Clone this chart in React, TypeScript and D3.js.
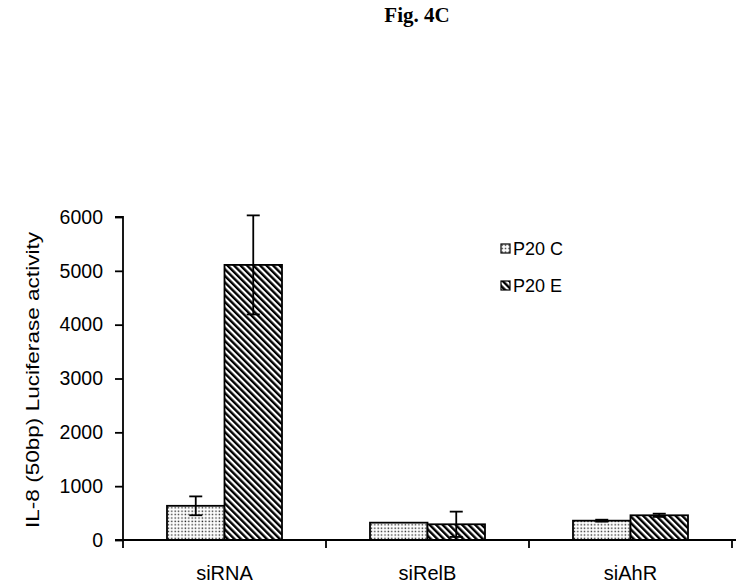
import * as d3 from "d3";
import { useEffect, useRef } from "react";

const categories = ["siRNA", "siRelB", "siAhR"];
const seriesNames = ["P20 C", "P20 E"];
const p20C = [635, 322, 359];
const p20CErr = [175, 0, 18];
const p20E = [5110, 292, 459];
const p20EErr = [920, 235, 30];
const yTicks = [0, 1000, 2000, 3000, 4000, 5000, 6000];

const App = () => {
  const ref = useRef<SVGSVGElement>(null);

  useEffect(() => {
    const svg = d3.select(ref.current);
    svg.selectAll("*").remove();

    const left = 123, right = 733, top = 217, bottom = 540;
    const sans = "Liberation Sans, Arial, sans-serif";

    const defs = svg.append("defs");
    const dots = defs
      .append("pattern")
      .attr("id", "dots")
      .attr("patternUnits", "userSpaceOnUse")
      .attr("width", 3.4)
      .attr("height", 3.4);
    dots.append("rect").attr("width", 3.4).attr("height", 3.4).attr("fill", "#fff");
    dots.append("rect").attr("x", 0.5).attr("y", 0.5).attr("width", 1.4).attr("height", 1.4).attr("fill", "#222");

    const hatch = defs
      .append("pattern")
      .attr("id", "hatch")
      .attr("patternUnits", "userSpaceOnUse")
      .attr("width", 4.6)
      .attr("height", 4.6)
      .attr("patternTransform", "rotate(-45)");
    hatch.append("rect").attr("width", 4.6).attr("height", 4.6).attr("fill", "#fff");
    hatch.append("rect").attr("x", 0).attr("width", 2.4).attr("height", 4.6).attr("fill", "#000");

    const x = d3.scaleBand().domain(categories).range([left, left + 203 * 3]);
    const x1 = d3.scaleBand().domain(seriesNames).range([44, 203 - 44]);
    const y = d3.scaleLinear().domain([0, 6000]).range([bottom, top]);

    const data = categories.map((c, i) => ({
      cat: c,
      vals: [
        { s: seriesNames[0], v: p20C[i], e: p20CErr[i], fill: "url(#dots)" },
        { s: seriesNames[1], v: p20E[i], e: p20EErr[i], fill: "url(#hatch)" },
      ],
    }));

    // title
    svg
      .append("text")
      .attr("x", 417)
      .attr("y", 22)
      .attr("text-anchor", "middle")
      .attr("font-family", "Liberation Serif, Times New Roman, serif")
      .attr("font-weight", "bold")
      .attr("font-size", 21)
      .text("Fig. 4C");

    // bars
    const groups = svg
      .selectAll("g.cat")
      .data(data)
      .join("g")
      .attr("class", "cat")
      .attr("transform", (d) => `translate(${x(d.cat)},0)`);

    groups
      .selectAll("rect")
      .data((d) => d.vals)
      .join("rect")
      .attr("x", (d) => x1(d.s)!)
      .attr("y", (d) => y(d.v))
      .attr("width", x1.bandwidth())
      .attr("height", (d) => y(0) - y(d.v))
      .attr("fill", (d) => d.fill)
      .attr("stroke", "#000")
      .attr("stroke-width", 1.8);

    // error bars
    const cx = (s: string) => x1(s)! + x1.bandwidth() / 2;
    const errs = groups
      .selectAll("g.err")
      .data((d) => d.vals.filter((v) => v.e > 0))
      .join("g")
      .attr("class", "err")
      .attr("stroke", "#000")
      .attr("stroke-width", 1.8);
    errs
      .append("line")
      .attr("x1", (d) => cx(d.s))
      .attr("x2", (d) => cx(d.s))
      .attr("y1", (d) => y(d.v - d.e))
      .attr("y2", (d) => y(d.v + d.e));
    errs
      .append("line")
      .attr("x1", (d) => cx(d.s) - 6.5)
      .attr("x2", (d) => cx(d.s) + 6.5)
      .attr("y1", (d) => y(d.v + d.e))
      .attr("y2", (d) => y(d.v + d.e));
    errs
      .append("line")
      .attr("x1", (d) => cx(d.s) - 6.5)
      .attr("x2", (d) => cx(d.s) + 6.5)
      .attr("y1", (d) => y(d.v - d.e))
      .attr("y2", (d) => y(d.v - d.e));

    // y axis
    const yAxis = svg
      .append("g")
      .attr("transform", `translate(${left},0)`)
      .call(d3.axisLeft(y).tickValues(yTicks).tickSize(8).tickPadding(12).tickFormat(d3.format("d")));
    yAxis.select(".domain").attr("stroke-width", 1.8).attr("d", `M-8,${top}H0V${bottom}H-8`);
    yAxis.selectAll("line").attr("stroke-width", 1.8);
    yAxis
      .selectAll("text")
      .attr("font-family", sans)
      .attr("font-size", 19.5)
      .attr("fill", "#000");

    // x axis
    const xAxis = svg.append("g").attr("transform", `translate(0,${bottom})`);
    xAxis
      .append("line")
      .attr("x1", left)
      .attr("x2", right + 3)
      .attr("y1", 0)
      .attr("y2", 0)
      .attr("stroke", "#000")
      .attr("stroke-width", 1.8);
    const edges = [...categories.map((c) => x(c)!), x(categories[categories.length - 1])! + x.bandwidth()];
    xAxis
      .selectAll("line.tk")
      .data(edges)
      .join("line")
      .attr("class", "tk")
      .attr("x1", (d) => d)
      .attr("x2", (d) => d)
      .attr("y1", 0)
      .attr("y2", 8)
      .attr("stroke", "#000")
      .attr("stroke-width", 1.8);
    xAxis
      .selectAll("text")
      .data(categories)
      .join("text")
      .attr("x", (d) => x(d)! + x.bandwidth() / 2)
      .attr("y", 40)
      .attr("text-anchor", "middle")
      .attr("font-family", sans)
      .attr("font-size", 20)
      .text((d) => d);

    // y label
    svg
      .append("text")
      .attr("transform", `translate(39,380) rotate(-90)`)
      .attr("text-anchor", "middle")
      .attr("font-family", sans)
      .attr("font-size", 19)
      .attr("textLength", 296)
      .attr("lengthAdjust", "spacingAndGlyphs")
      .text("IL-8 (50bp) Luciferase activity");

    // legend
    const legend = svg
      .selectAll("g.leg")
      .data(seriesNames)
      .join("g")
      .attr("class", "leg")
      .attr("transform", (_d, i) => `translate(501,${244 + i * 37})`);
    legend
      .append("rect")
      .attr("width", 9)
      .attr("height", 9)
      .attr("fill", (_d, i) => (i === 0 ? "url(#dots)" : "url(#hatch)"))
      .attr("stroke", "#000")
      .attr("stroke-width", 1.2);
    legend
      .append("text")
      .attr("x", 12)
      .attr("y", 11)
      .attr("font-family", sans)
      .attr("font-size", 18)
      .text((d) => d);
  }, []);

  return <svg ref={ref} width={739} height={587} style={{ position: "absolute", left: 0, top: 0 }} />;
};

export default App;
